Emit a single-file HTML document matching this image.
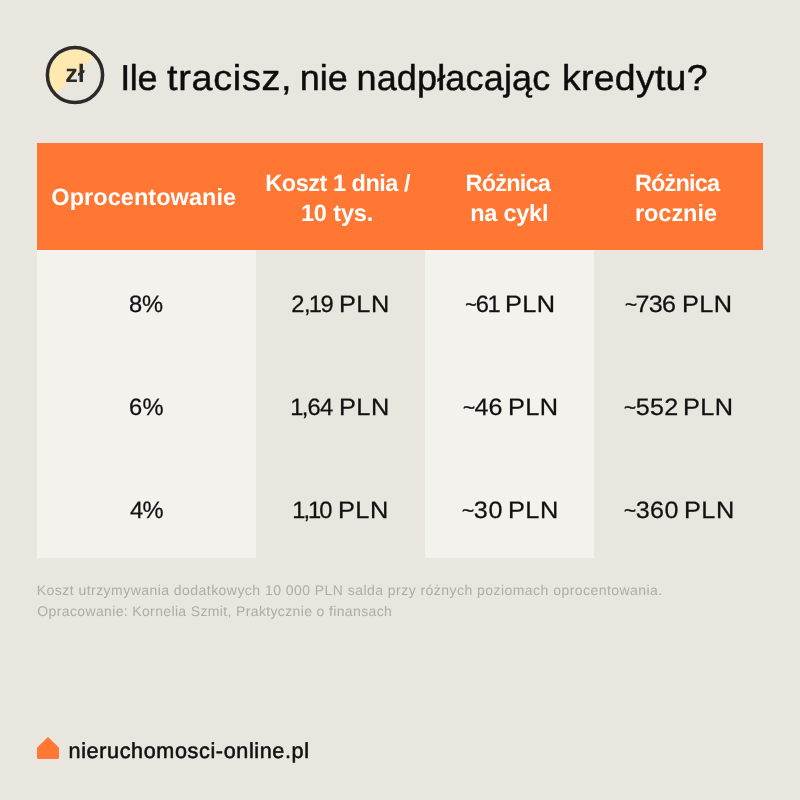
<!DOCTYPE html>
<html lang="pl">
<head>
<meta charset="utf-8">
<title>Ile tracisz, nie nadpłacając kredytu?</title>
<style>
*{margin:0;padding:0;box-sizing:border-box}
html,body{width:800px;height:800px;overflow:hidden}
body{background:#e9e5df;font-family:"Liberation Sans",sans-serif;color:#111;position:relative;text-rendering:geometricPrecision}
.abs,.t{position:absolute;white-space:nowrap}
#coin{left:45.4px;top:45.2px;width:60px;height:60px}
#head{left:37px;top:143px;width:726px;height:106.6px;background:#ff7733}
.c1{left:37px;width:218.5px}
.c3{left:424.7px;width:169.1px}
.bg{top:249.6px;height:308.2px;background:#f4f2ed}
.ti{color:#0d0d0d;-webkit-text-stroke:0.45px #0d0d0d}
.h{color:#fff;font-weight:bold}
.v{color:#111;-webkit-text-stroke:0.25px #111}
.n{color:#afaba5}
.o{margin:0 -1px 0 -1.2px}
.tl{font-size:19.5px;position:relative;top:-1.2px;margin-right:-0.8px;-webkit-text-stroke:0.45px #111}
.b{color:#111;-webkit-text-stroke:0.55px #111}
#house{left:36px;top:736px;width:24px;height:24px}
#t0{left:120.24px;top:53px;font-size:36px;line-height:50px;letter-spacing:-0.385px}
#t1{left:166.99px;top:53px;font-size:36px;line-height:50px;letter-spacing:0.667px;transform:scaleX(1.05);transform-origin:0 50%}
#t2{left:299.86px;top:53px;font-size:36px;line-height:50px;letter-spacing:-0.078px}
#t3{left:356.47px;top:53px;font-size:36px;line-height:50px;letter-spacing:0.160px}
#t4{left:562.14px;top:53px;font-size:36px;line-height:50px;letter-spacing:0.256px;transform:scaleX(1.04);transform-origin:0 50%}
#h1{left:51.35px;top:182px;font-size:23.5px;line-height:30px;letter-spacing:0.047px}
#h2a{left:265.34px;top:168px;font-size:23.5px;line-height:30px;letter-spacing:-0.483px}
#h2b{left:300.90px;top:198px;font-size:23.5px;line-height:30px;letter-spacing:-0.118px}
#h3a{left:465.56px;top:168px;font-size:23.5px;line-height:30px;letter-spacing:-0.792px}
#h3b{left:470.24px;top:198px;font-size:23.5px;line-height:30px;letter-spacing:-0.249px}
#h4a{left:634.88px;top:168px;font-size:23.5px;line-height:30px;letter-spacing:-0.836px}
#h4b{left:634.96px;top:198px;font-size:23.5px;line-height:30px;letter-spacing:-0.043px}
#r1c1{left:129.00px;top:290px;font-size:23.7px;line-height:30px;letter-spacing:-0.115px}
#r1c2a{left:291.28px;top:290px;font-size:23.7px;line-height:30px;letter-spacing:-0.492px}
#r1c2b{left:338.80px;top:290px;font-size:23.7px;line-height:30px;letter-spacing:0.418px;transform:scaleX(1.07);transform-origin:0 50%}
#r1c3a{left:465.25px;top:290px;font-size:23.7px;line-height:30px;letter-spacing:-0.220px}
#r1c3b{left:505.00px;top:290px;font-size:23.7px;line-height:30px;letter-spacing:0.309px;transform:scaleX(1.07);transform-origin:0 50%}
#r1c4a{left:625.02px;top:290px;font-size:23.7px;line-height:30px;letter-spacing:-0.705px;transform:scaleX(1.06);transform-origin:0 50%}
#r1c4b{left:681.64px;top:290px;font-size:23.7px;line-height:30px;letter-spacing:0.309px;transform:scaleX(1.07);transform-origin:0 50%}
#r2c1{left:129.03px;top:393px;font-size:23.7px;line-height:30px;letter-spacing:0.332px}
#r2c2a{left:291.52px;top:393px;font-size:23.7px;line-height:30px;letter-spacing:-0.765px}
#r2c2b{left:338.80px;top:393px;font-size:23.7px;line-height:30px;letter-spacing:0.418px;transform:scaleX(1.07);transform-origin:0 50%}
#r2c3a{left:462.92px;top:393px;font-size:23.7px;line-height:30px;letter-spacing:0.176px;transform:scaleX(1.06);transform-origin:0 50%}
#r2c3b{left:507.64px;top:393px;font-size:23.7px;line-height:30px;letter-spacing:0.309px;transform:scaleX(1.07);transform-origin:0 50%}
#r2c4a{left:623.82px;top:393px;font-size:23.7px;line-height:30px;letter-spacing:0.376px;transform:scaleX(1.06);transform-origin:0 50%}
#r2c4b{left:682.98px;top:393px;font-size:23.7px;line-height:30px;letter-spacing:0.309px;transform:scaleX(1.07);transform-origin:0 50%}
#r3c1{left:130.06px;top:496px;font-size:23.7px;line-height:30px;letter-spacing:-0.793px}
#r3c2a{left:293.52px;top:496px;font-size:23.7px;line-height:30px;letter-spacing:-0.934px}
#r3c2b{left:337.80px;top:496px;font-size:23.7px;line-height:30px;letter-spacing:0.418px;transform:scaleX(1.07);transform-origin:0 50%}
#r3c3a{left:461.88px;top:496px;font-size:23.7px;line-height:30px;letter-spacing:0.578px;transform:scaleX(1.06);transform-origin:0 50%}
#r3c3b{left:508.20px;top:496px;font-size:23.7px;line-height:30px;letter-spacing:0.418px;transform:scaleX(1.07);transform-origin:0 50%}
#r3c4a{left:624.12px;top:496px;font-size:23.7px;line-height:30px;letter-spacing:0.393px;transform:scaleX(1.06);transform-origin:0 50%}
#r3c4b{left:684.20px;top:496px;font-size:23.7px;line-height:30px;letter-spacing:0.418px;transform:scaleX(1.07);transform-origin:0 50%}
#n1{left:36.84px;top:580px;font-size:14px;line-height:21px;letter-spacing:0.455px}
#n2{left:37.36px;top:601px;font-size:14px;line-height:21px;letter-spacing:0.358px}
#brand{left:68.57px;top:736px;font-size:21.6px;line-height:30px;letter-spacing:0.618px}
</style>
</head>
<body>
<svg id="coin" class="abs" viewBox="0 0 60 60">
  <defs><clipPath id="cc"><circle cx="30" cy="30" r="27.5"/></clipPath></defs>
  <polygon points="0,0 60,0 0,60" fill="#ffe9b0" clip-path="url(#cc)"/>
  <circle cx="30" cy="30" r="27.6" fill="none" stroke="#2b2b2b" stroke-width="3.5"/>
  <text x="30" y="36.7" text-anchor="middle" font-family="Liberation Sans, sans-serif" font-weight="bold" font-size="25.2" fill="#2b2b2b">zł</text>
</svg>
<div id="head" class="abs"></div>
<div class="abs c1 bg"></div>
<div class="abs c3 bg"></div>
<div id="t0" class="t ti">Ile</div>
<div id="t1" class="t ti">tracisz,</div>
<div id="t2" class="t ti">nie</div>
<div id="t3" class="t ti">nadpłacając</div>
<div id="t4" class="t ti">kredytu?</div>
<div id="h1" class="t h">Oprocentowanie</div>
<div id="h2a" class="t h">Koszt 1 dnia /</div>
<div id="h2b" class="t h">10 tys.</div>
<div id="h3a" class="t h">Różnica</div>
<div id="h3b" class="t h">na cykl</div>
<div id="h4a" class="t h">Różnica</div>
<div id="h4b" class="t h">rocznie</div>
<div id="r1c1" class="t v">8%</div>
<div id="r1c2a" class="t v">2,<span class="o">1</span>9</div>
<div id="r1c2b" class="t v">PLN</div>
<div id="r1c3a" class="t v"><span class="tl">~</span>6<span class="o">1</span></div>
<div id="r1c3b" class="t v">PLN</div>
<div id="r1c4a" class="t v"><span class="tl">~</span>736</div>
<div id="r1c4b" class="t v">PLN</div>
<div id="r2c1" class="t v">6%</div>
<div id="r2c2a" class="t v"><span class="o">1</span>,64</div>
<div id="r2c2b" class="t v">PLN</div>
<div id="r2c3a" class="t v"><span class="tl">~</span>46</div>
<div id="r2c3b" class="t v">PLN</div>
<div id="r2c4a" class="t v"><span class="tl">~</span>552</div>
<div id="r2c4b" class="t v">PLN</div>
<div id="r3c1" class="t v">4%</div>
<div id="r3c2a" class="t v"><span class="o">1</span>,<span class="o">1</span>0</div>
<div id="r3c2b" class="t v">PLN</div>
<div id="r3c3a" class="t v"><span class="tl">~</span>30</div>
<div id="r3c3b" class="t v">PLN</div>
<div id="r3c4a" class="t v"><span class="tl">~</span>360</div>
<div id="r3c4b" class="t v">PLN</div>
<div id="n1" class="t n">Koszt utrzymywania dodatkowych 10 000 PLN salda przy różnych poziomach oprocentowania.</div>
<div id="n2" class="t n">Opracowanie: Kornelia Szmit, Praktycznie o finansach</div>
<div id="brand" class="t b">nieruchomosci-online.pl</div>
<svg id="house" class="abs" viewBox="0 0 24 24">
  <path d="M1.5 11.8 L12 1.5 L22.5 11.8 L22.5 22.4 L1.5 22.4 Z" fill="#ff7733" stroke="#ff7733" stroke-width="1" stroke-linejoin="round"/>
</svg>
</body>
</html>
